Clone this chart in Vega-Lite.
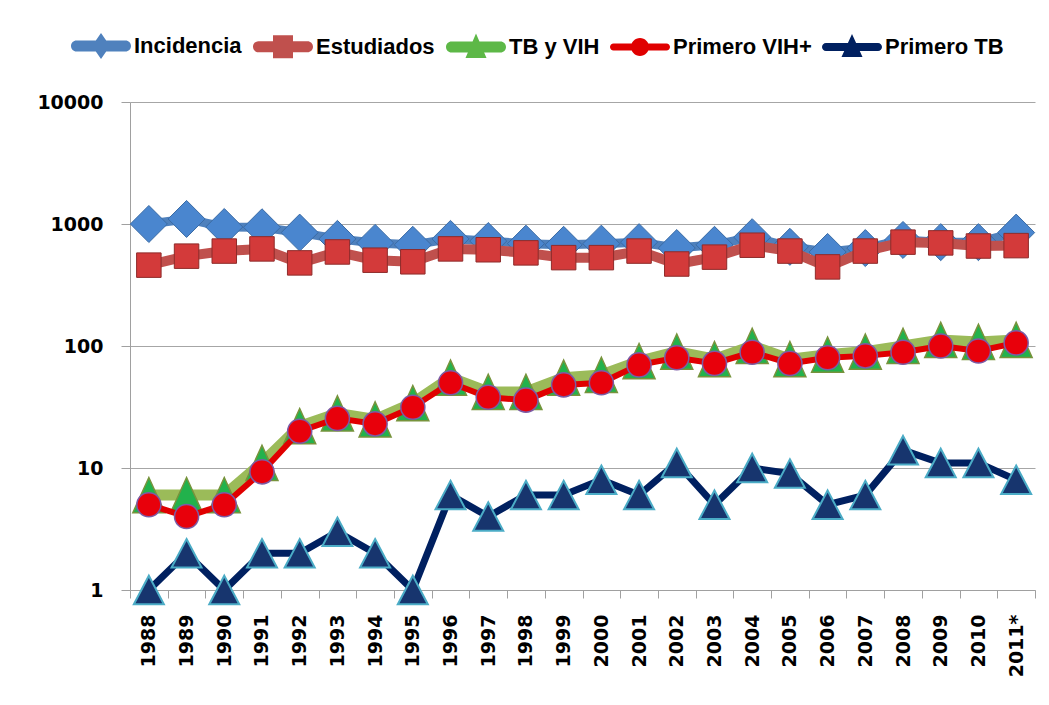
{
  "$schema": "https://vega.github.io/schema/vega-lite/v6.json",
  "width": 905,
  "height": 488,
  "autosize": {"type": "none"},
  "padding": {"left": 130, "top": 102, "right": 14, "bottom": 115},
  "background": "white",
  "config": {"view": {"stroke": null}},
  "data": {"values": [
    {"year": "1988", "Incidencia": 1000, "Estudiados": 460, "TB y VIH": 6, "Primero VIH+": 5, "Primero TB": 1},
    {"year": "1989", "Incidencia": 1100, "Estudiados": 545, "TB y VIH": 6, "Primero VIH+": 4, "Primero TB": 2},
    {"year": "1990", "Incidencia": 945, "Estudiados": 600, "TB y VIH": 6, "Primero VIH+": 5, "Primero TB": 1},
    {"year": "1991", "Incidencia": 940, "Estudiados": 625, "TB y VIH": 11, "Primero VIH+": 9.3, "Primero TB": 2},
    {"year": "1992", "Incidencia": 850, "Estudiados": 480, "TB y VIH": 22, "Primero VIH+": 20, "Primero TB": 2},
    {"year": "1993", "Incidencia": 755, "Estudiados": 590, "TB y VIH": 28, "Primero VIH+": 25.5, "Primero TB": 3},
    {"year": "1994", "Incidencia": 700, "Estudiados": 505, "TB y VIH": 25, "Primero VIH+": 23, "Primero TB": 2},
    {"year": "1995", "Incidencia": 675, "Estudiados": 490, "TB y VIH": 34, "Primero VIH+": 31.5, "Primero TB": 1},
    {"year": "1996", "Incidencia": 755, "Estudiados": 625, "TB y VIH": 55, "Primero VIH+": 50, "Primero TB": 6},
    {"year": "1997", "Incidencia": 725, "Estudiados": 615, "TB y VIH": 42, "Primero VIH+": 38, "Primero TB": 4},
    {"year": "1998", "Incidencia": 690, "Estudiados": 580, "TB y VIH": 42, "Primero VIH+": 36, "Primero TB": 6},
    {"year": "1999", "Incidencia": 675, "Estudiados": 530, "TB y VIH": 55, "Primero VIH+": 48, "Primero TB": 6},
    {"year": "2000", "Incidencia": 690, "Estudiados": 530, "TB y VIH": 58, "Primero VIH+": 50, "Primero TB": 8},
    {"year": "2001", "Incidencia": 710, "Estudiados": 600, "TB y VIH": 75, "Primero VIH+": 70, "Primero TB": 6},
    {"year": "2002", "Incidencia": 635, "Estudiados": 470, "TB y VIH": 90, "Primero VIH+": 80, "Primero TB": 11},
    {"year": "2003", "Incidencia": 675, "Estudiados": 535, "TB y VIH": 78, "Primero VIH+": 72, "Primero TB": 5},
    {"year": "2004", "Incidencia": 780, "Estudiados": 670, "TB y VIH": 100, "Primero VIH+": 89, "Primero TB": 10},
    {"year": "2005", "Incidencia": 650, "Estudiados": 600, "TB y VIH": 78, "Primero VIH+": 72, "Primero TB": 9},
    {"year": "2006", "Incidencia": 590, "Estudiados": 445, "TB y VIH": 85, "Primero VIH+": 80, "Primero TB": 5},
    {"year": "2007", "Incidencia": 635, "Estudiados": 600, "TB y VIH": 90, "Primero VIH+": 83, "Primero TB": 6},
    {"year": "2008", "Incidencia": 740, "Estudiados": 710, "TB y VIH": 100, "Primero VIH+": 89, "Primero TB": 14},
    {"year": "2009", "Incidencia": 710, "Estudiados": 700, "TB y VIH": 112, "Primero VIH+": 100, "Primero TB": 11},
    {"year": "2010", "Incidencia": 710, "Estudiados": 660, "TB y VIH": 108, "Primero VIH+": 91, "Primero TB": 11},
    {"year": "2011*", "Incidencia": 850, "Estudiados": 665, "TB y VIH": 112, "Primero VIH+": 106, "Primero TB": 8}
  ]},
  "transform": [
    {"fold": ["Incidencia", "Estudiados", "TB y VIH", "Primero VIH+", "Primero TB"], "as": ["serie", "v"]}
  ],
  "encoding": {
    "x": {
      "field": "year", "type": "ordinal", "sort": null, "bandPosition": 0.5,
      "scale": {"type": "band", "paddingInner": 0, "paddingOuter": 0},
      "axis": {
        "title": null, "labelAngle": -90, "tickBand": "extent",
        "labelFont": "DejaVu Sans", "labelFontWeight": "bold", "labelFontSize": 19, "labelColor": "#000000",
        "domainColor": "#A0A0A0", "tickColor": "#A0A0A0", "tickSize": 8, "labelPadding": 16, "grid": false
      }
    },
    "y": {
      "field": "v", "type": "quantitative",
      "scale": {"type": "log", "domain": [1, 10000], "nice": false},
      "axis": {
        "title": null, "values": [1, 10, 100, 1000, 10000], "format": "d",
        "labelFont": "DejaVu Sans", "labelFontWeight": "bold", "labelFontSize": 19, "labelColor": "#000000",
        "domainColor": "#A0A0A0", "tickColor": "#A0A0A0", "tickSize": 9, "labelPadding": 18,
        "grid": true, "gridColor": "#A6A6A6", "gridWidth": 1
      }
    }
  },
  "layer": [
    {"transform": [{"filter": "datum.serie === 'Incidencia'"}], "mark": {"type": "line", "color": "#4F81BD", "strokeWidth": 9, "clip": false}},
    {"transform": [{"filter": "datum.serie === 'Incidencia'"}], "mark": {"type": "point", "shape": "diamond", "filled": true, "opacity": 1, "fill": "#4A86CF", "stroke": "#3A6BA5", "strokeWidth": 1, "size": 1370, "clip": false}},
    {"transform": [{"filter": "datum.serie === 'Estudiados'"}], "mark": {"type": "line", "color": "#C0504D", "strokeWidth": 10, "clip": false}},
    {"transform": [{"filter": "datum.serie === 'Estudiados'"}], "mark": {"type": "point", "shape": "square", "filled": true, "opacity": 1, "fill": "#D33A3A", "stroke": "#8E2B2A", "strokeWidth": 1, "size": 600, "clip": false}},
    {"transform": [{"filter": "datum.serie === 'TB y VIH'"}], "mark": {"type": "line", "color": "#9BBB59", "strokeWidth": 11, "clip": false}},
    {"transform": [{"filter": "datum.serie === 'TB y VIH'"}], "mark": {"type": "point", "shape": "M0,-1.1L1,1.1L-1,1.1Z", "filled": true, "opacity": 1, "fill": "#22B24C", "stroke": "#77933C", "strokeWidth": 1.5, "size": 1024, "clip": false}},
    {"transform": [{"filter": "datum.serie === 'Primero VIH+'"}], "mark": {"type": "line", "color": "#E00000", "strokeWidth": 6, "clip": false}},
    {"transform": [{"filter": "datum.serie === 'Primero VIH+'"}], "mark": {"type": "point", "shape": "circle", "filled": true, "opacity": 1, "fill": "#E8000B", "stroke": "#7B5BA6", "strokeWidth": 1.5, "size": 580, "clip": false}},
    {"transform": [{"filter": "datum.serie === 'Primero TB'"}], "mark": {"type": "line", "color": "#002060", "strokeWidth": 7, "clip": false}},
    {"transform": [{"filter": "datum.serie === 'Primero TB'"}], "mark": {"type": "point", "shape": "M0,-0.95L1,0.95L-1,0.95Z", "filled": true, "opacity": 1, "fill": "#17356E", "stroke": "#4BACC6", "strokeWidth": 2, "size": 900, "clip": false}},
    {
      "transform": [{"filter": "false"}],
      "mark": {"type": "point", "filled": true, "opacity": 1},
      "encoding": {
        "color": {
          "field": "serie", "type": "nominal",
          "scale": {"domain": ["Incidencia", "Estudiados", "TB y VIH", "Primero VIH+", "Primero TB"], "range": ["#4F81BD", "#C0504D", "#5DB847", "#E00000", "#002060"]},
          "legend": {"orient": "none", "legendX": -40, "legendY": -67, "direction": "horizontal", "columns": 5, "title": null, "padding": 0,
            "labelFont": "Liberation Sans", "labelFontWeight": "bold", "labelFontSize": 22, "labelColor": "#000000",
            "symbolSize": 400, "symbolStrokeWidth": 0, "symbolOpacity": 1, "labelOffset": 22, "columnPadding": 10}
        },
        "shape": {
          "field": "serie", "type": "nominal",
          "scale": {"domain": ["Incidencia", "Estudiados", "TB y VIH", "Primero VIH+", "Primero TB"], "range": [
            "M-2.45,-0.55L2.45,-0.55A0.55,0.55 0 0 1 2.45,0.55L-2.45,0.55A0.55,0.55 0 0 1 -2.45,-0.55Z M0,-1.3L0.9,0L0,1.3L-0.9,0Z",
            "M-2.45,-0.55L2.45,-0.55A0.55,0.55 0 0 1 2.45,0.55L-2.45,0.55A0.55,0.55 0 0 1 -2.45,-0.55Z M-1,-1.15L1,-1.15L1,1.15L-1,1.15Z",
            "M-2.45,-0.55L2.45,-0.55A0.55,0.55 0 0 1 2.45,0.55L-2.45,0.55A0.55,0.55 0 0 1 -2.45,-0.55Z M0,-1.35L1.05,1.1L-1.05,1.1Z",
            "M-2.65,-0.35L2.65,-0.35A0.35,0.35 0 0 1 2.65,0.35L-2.65,0.35A0.35,0.35 0 0 1 -2.65,-0.35Z M0,-0.9A0.9,0.9 0 1 1 0,0.9A0.9,0.9 0 1 1 0,-0.9Z",
            "M-2.6,-0.4L2.6,-0.4A0.4,0.4 0 0 1 2.6,0.4L-2.6,0.4A0.4,0.4 0 0 1 -2.6,-0.4Z M0,-1.3L1.05,1.0L-1.05,1.0Z"
          ]},
          "legend": {"orient": "none", "legendX": -40, "legendY": -67, "direction": "horizontal", "columns": 5, "title": null, "padding": 0,
            "labelFont": "Liberation Sans", "labelFontWeight": "bold", "labelFontSize": 22, "labelColor": "#000000",
            "symbolSize": 400, "symbolStrokeWidth": 0, "symbolOpacity": 1, "labelOffset": 22, "columnPadding": 10}
        }
      }
    }
  ]
}
